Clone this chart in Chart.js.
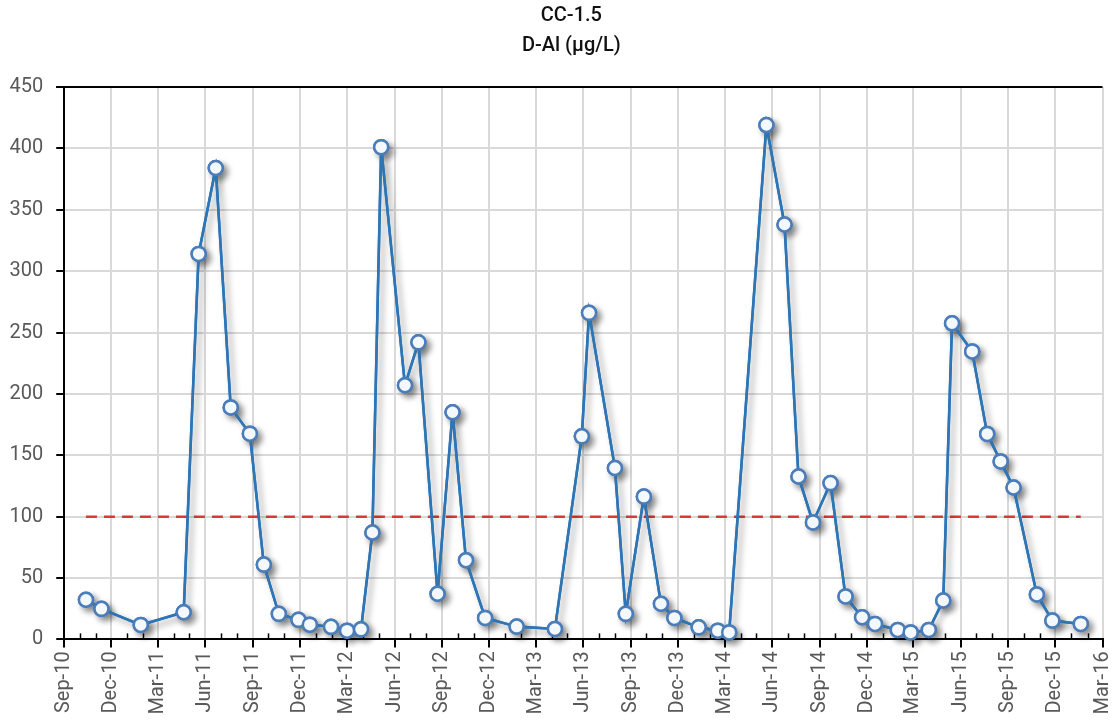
<!DOCTYPE html>
<html>
<head>
<meta charset="utf-8">
<script src="https://cdn.jsdelivr.net/npm/chart.js@4.4.1/dist/chart.umd.min.js"></script>
<style>
  html, body { margin: 0; padding: 0; background: #fff; }
  #wrap { width: 1112px; height: 723px; }
</style>
</head>
<body>
<div id="wrap"><canvas id="chart"></canvas></div>
<script>
// sample dates and D-Al values (µg/L)
const sampleDates = [
  '2010-10-13', '2010-11-12', '2011-01-27', '2011-04-20', '2011-05-19', '2011-06-21',
  '2011-07-20', '2011-08-26', '2011-09-22', '2011-10-21', '2011-11-28', '2011-12-20',
  '2012-01-30', '2012-03-01', '2012-03-28', '2012-04-19', '2012-05-06', '2012-06-21',
  '2012-07-17', '2012-08-23', '2012-09-21', '2012-10-17', '2012-11-23', '2013-01-23',
  '2013-04-07', '2013-05-29', '2013-06-12', '2013-08-01', '2013-08-22', '2013-09-26',
  '2013-10-29', '2013-11-24', '2014-01-10', '2014-02-16', '2014-03-10', '2014-05-21',
  '2014-06-25', '2014-07-22', '2014-08-19', '2014-09-22', '2014-10-21', '2014-11-22',
  '2014-12-17', '2015-01-30', '2015-02-24', '2015-03-31', '2015-04-28', '2015-05-15',
  '2015-06-23', '2015-07-22', '2015-08-17', '2015-09-11', '2015-10-26', '2015-11-25',
  '2016-01-19'
];
const alValues = [
  32.3, 24.9, 11.8, 22.1, 314, 384,
  189, 167.6, 60.9, 20.8, 15.9, 12.0,
  10.2, 7.1, 8.2, 87.1, 401, 207,
  242, 37.2, 185, 64.5, 17.5, 10.4,
  8.5, 165.4, 266, 139.6, 20.8, 116.3,
  29, 17.5, 9.8, 7.1, 5.7, 419,
  338, 132.7, 95.3, 127.3, 35, 18,
  12.6, 7.7, 5.7, 7.7, 31.7, 257.5,
  234.6, 167.4, 145, 123.7, 36.6, 15.3,
  12.6
];
// guideline at 100 µg/L, spanning the sampling period
const guideDates = ['2010-10-13', '2016-01-19'];
const guideValues = [100, 100];

const titleLines = ['CC-1.5', 'D-Al (µg/L)'];
const axisStart = '2010-09-01';
const axisEnd = '2016-03-01';
const tickLabels = [
  'Sep-10', 'Dec-10', 'Mar-11', 'Jun-11', 'Sep-11', 'Dec-11', 'Mar-12', 'Jun-12',
  'Sep-12', 'Dec-12', 'Mar-13', 'Jun-13', 'Sep-13', 'Dec-13', 'Mar-14', 'Jun-14',
  'Sep-14', 'Dec-14', 'Mar-15', 'Jun-15', 'Sep-15', 'Dec-15', 'Mar-16'
];
const yTicks = [0, 50, 100, 150, 200, 250, 300, 350, 400, 450];

const ts = d => Date.parse(d + 'T00:00:00Z');

// month starts between axisStart and axisEnd
function monthTicks() {
  const out = [];
  const d = new Date(ts(axisStart));
  const end = ts(axisEnd);
  while (d.getTime() <= end) {
    out.push(d.getTime());
    d.setUTCMonth(d.getUTCMonth() + 1);
  }
  return out;
}
const months = monthTicks();
const isQuarter = v => months.indexOf(v) % 3 === 0;

const FONT = "Roboto, 'Liberation Sans', sans-serif";

// shadow pass: draw the series once with a shadow, the normal draw then goes on top
const shadowPlugin = {
  id: 'shadow',
  beforeDatasetDraw(chart, args) {
    if (args.index !== 0) return;
    const ctx = chart.ctx;
    ctx.save();
    ctx.shadowColor = 'rgba(0,0,0,0.42)';
    ctx.shadowBlur = 6;
    ctx.shadowOffsetX = 4;
    ctx.shadowOffsetY = 4;
    args.meta.controller.draw();
    ctx.restore();
  }
};

// title, top frame line and the small monthly ticks on the x axis
const framePlugin = {
  id: 'frame',
  beforeDatasetsDraw(chart) {
    const { ctx, chartArea, scales } = chart;
    ctx.save();
    ctx.strokeStyle = '#000';
    ctx.lineWidth = 2;
    ctx.beginPath();
    ctx.moveTo(chartArea.left - 8, chartArea.top);
    ctx.lineTo(chartArea.right, chartArea.top);
    ctx.stroke();
    ctx.lineWidth = 1.5;
    months.forEach((m, i) => {
      if (i % 3 === 0) return;
      const x = Math.round(scales.x.getPixelForValue(m)) + 0.5;
      ctx.beginPath();
      ctx.moveTo(x, chartArea.bottom);
      ctx.lineTo(x, chartArea.bottom - 6);
      ctx.stroke();
    });
    ctx.restore();
  },
  afterDraw(chart) {
    const { ctx, chartArea } = chart;
    const cx = (chartArea.left + chartArea.right) / 2 - 12;
    ctx.save();
    ctx.fillStyle = '#111';
    ctx.font = '500 20px ' + FONT;
    ctx.textAlign = 'center';
    ctx.textBaseline = 'middle';
    titleLines.forEach((t, i) => ctx.fillText(t, cx, 16 + i * 30));
    ctx.restore();
  }
};

new Chart(document.getElementById('chart'), {
  type: 'line',
  data: {
    datasets: [
      {
        data: sampleDates.map((d, i) => ({ x: ts(d), y: alValues[i] })),
        borderColor: '#2e75b6',
        borderWidth: 2.5,
        pointRadius: 7,
        pointBorderWidth: 2.5,
        pointBorderColor: '#4a7db9',
        pointBackgroundColor: '#f3f8fd',
        tension: 0,
        clip: false
      },
      {
        data: guideDates.map((d, i) => ({ x: ts(d), y: guideValues[i] })),
        borderColor: '#d63b3b',
        borderWidth: 2.5,
        borderDash: [11, 7],
        pointRadius: 0,
        clip: false
      }
    ]
  },
  options: {
    responsive: true,
    maintainAspectRatio: false,
    animation: false,
    layout: { padding: { left: -3.5, right: 3, top: 87, bottom: 4.5 } },
    plugins: {
      legend: { display: false },
      tooltip: { enabled: false },
      title: { display: false }
    },
    scales: {
      x: {
        type: 'linear',
        min: ts(axisStart),
        max: ts(axisEnd),
        afterBuildTicks: scale => { scale.ticks = months.map(v => ({ value: v })); },
        afterFit: scale => { scale.paddingRight = 9; },
        ticks: {
          autoSkip: false,
          minRotation: 90,
          maxRotation: 90,
          padding: 4,
          color: '#595959',
          font: { family: FONT, size: 20 },
          callback: v => {
            const i = months.indexOf(v);
            return i % 3 === 0 ? tickLabels[i / 3] : '';
          }
        },
        grid: {
          color: c => (c.tick && isQuarter(c.tick.value) ? '#d9d9d9' : 'rgba(0,0,0,0)'),
          tickColor: c => (c.tick && isQuarter(c.tick.value) ? '#000' : 'rgba(0,0,0,0)'),
          lineWidth: 2,
          tickLength: 8,
          tickWidth: 2
        },
        border: { color: '#000', width: 2 }
      },
      y: {
        min: 0,
        max: 450,
        afterBuildTicks: scale => { scale.ticks = yTicks.map(v => ({ value: v })); },
        ticks: {
          padding: 13,
          color: '#595959',
          font: { family: FONT, size: 20 }
        },
        grid: {
          color: '#d9d9d9',
          lineWidth: 2,
          tickColor: '#000',
          tickLength: 8,
          tickWidth: 2
        },
        border: { color: '#000', width: 2 }
      }
    }
  },
  plugins: [shadowPlugin, framePlugin]
});
</script>
</body>
</html>
